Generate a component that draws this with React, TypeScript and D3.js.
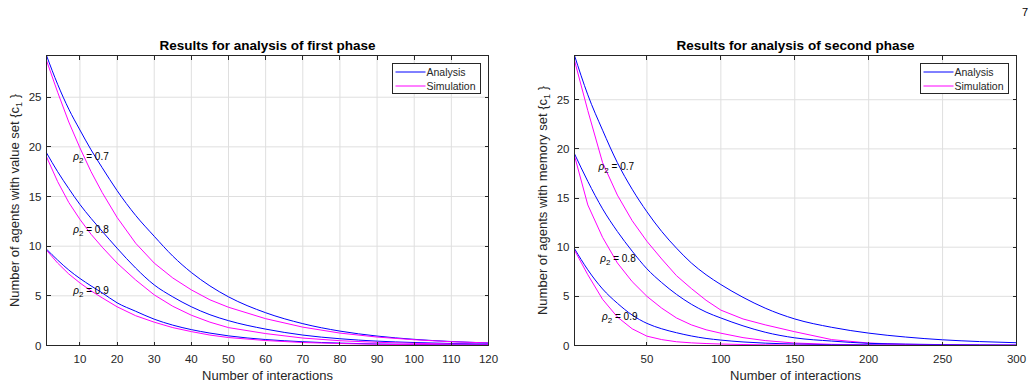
import * as d3 from "d3";

const FONT = "'Liberation Sans', Arial, Helvetica, sans-serif";
const WIDTH = 1036;
const HEIGHT = 387;
const AXIS_COLOR = "#262626";
const GRID_COLOR = "#dfdfdf";
const BLUE = "#0000ff";
const MAGENTA = "#ff00ff";

// first phase (value set)
const firstSteps = [1, 4, 7, 10, 13, 16, 20, 25, 30, 35, 40, 45, 50, 60, 70, 80, 90, 100, 110, 120];
const firstAnalysis07 = [29.2, 26.3, 23.8, 21.7, 19.7, 17.9, 15.6, 13.1, 11.0, 9.0, 7.35, 6.0, 4.9, 3.3, 2.2, 1.45, 0.95, 0.62, 0.4, 0.26];
const firstSimulation07 = [28.7, 25.5, 22.5, 19.9, 17.5, 15.4, 12.9, 10.3, 8.3, 6.8, 5.6, 4.6, 3.85, 2.7, 1.85, 1.25, 0.85, 0.58, 0.38, 0.26];
const firstAnalysis08 = [19.4, 17.5, 15.8, 14.2, 12.8, 11.5, 9.8, 7.8, 6.1, 4.9, 3.9, 3.1, 2.5, 1.65, 1.05, 0.68, 0.44, 0.3, 0.2, 0.14];
const firstSimulation08 = [19.0, 16.5, 14.4, 12.7, 11.2, 9.9, 8.3, 6.6, 5.1, 3.95, 3.05, 2.35, 1.8, 1.2, 0.75, 0.48, 0.32, 0.22, 0.15, 0.1];
const firstAnalysis09 = [9.7, 8.6, 7.6, 6.75, 6.0, 5.3, 4.3, 3.45, 2.65, 2.05, 1.6, 1.25, 0.97, 0.6, 0.38, 0.24, 0.15, 0.1, 0.06, 0.04];
const firstSimulation09 = [9.6, 8.3, 7.2, 6.3, 5.5, 4.8, 3.9, 3.0, 2.35, 1.8, 1.4, 1.05, 0.8, 0.5, 0.3, 0.2, 0.12, 0.08, 0.05, 0.03];

// second phase (memory set)
const secondSteps = [1, 10, 20, 30, 40, 50, 60, 70, 80, 90, 100, 115, 130, 150, 175, 200, 225, 250, 275, 300];
const secondAnalysis07 = [29.5, 25.5, 21.9, 18.6, 15.9, 13.6, 11.6, 9.9, 8.4, 7.2, 6.2, 4.9, 3.8, 2.7, 1.85, 1.26, 0.86, 0.58, 0.4, 0.28];
const secondSimulation07 = [29.0, 23.9, 18.6, 15.3, 12.7, 10.6, 8.8, 7.1, 5.8, 4.6, 3.6, 2.7, 2.1, 1.4, 0.6, 0.25, 0.12, 0.07, 0.04, 0.03];
const secondAnalysis08 = [19.5, 16.7, 13.9, 11.6, 9.6, 7.8, 6.4, 5.2, 4.2, 3.4, 2.8, 2.0, 1.35, 0.78, 0.45, 0.22, 0.14, 0.09, 0.06, 0.04];
const secondSimulation08 = [19.3, 14.3, 11.0, 8.4, 6.5, 5.0, 3.8, 2.8, 2.1, 1.6, 1.25, 0.8, 0.5, 0.25, 0.12, 0.06, 0.04, 0.03, 0.02, 0.02];
const secondAnalysis09 = [9.85, 7.7, 5.75, 4.3, 3.1, 2.25, 1.7, 1.3, 0.97, 0.72, 0.55, 0.36, 0.24, 0.15, 0.08, 0.05, 0.03, 0.02, 0.015, 0.01];
const secondSimulation09 = [9.7, 7.2, 4.7, 2.9, 1.7, 0.95, 0.6, 0.38, 0.27, 0.2, 0.15, 0.1, 0.07, 0.05, 0.03, 0.02, 0.01, 0.01, 0.01, 0.01];

const rhoValues = ["0.7", "0.8", "0.9"];
const firstLabelSpots = [[8.2, 19.0], [8.2, 11.7], [8.2, 5.55]];
const secondLabelSpots = [[17.3, 18.2], [18.4, 8.86], [19.6, 2.94]];

const firstXTicks = [10, 20, 30, 40, 50, 60, 70, 80, 90, 100, 110, 120];
const secondXTicks = [50, 100, 150, 200, 250, 300];
const yTicks = [0, 5, 10, 15, 20, 25];
const legendNames = ["Analysis", "Simulation"];
const legendColors = [BLUE, MAGENTA];

type Box = { left: number; right: number; top: number; bottom: number };

type PanelProps = {
  box: Box;
  xDomain: [number, number];
  yMax: number;
  xTicks: number[];
  steps: number[];
  analysis: number[][];
  simulation: number[][];
  labelSpots: number[][];
  title: string;
  yLabel: string;
};

function Panel({ box, xDomain, yMax, xTicks, steps, analysis, simulation, labelSpots, title, yLabel }: PanelProps) {
  const x = d3.scaleLinear().domain(xDomain).range([box.left, box.right]);
  const y = d3.scaleLinear().domain([0, yMax]).range([box.bottom, box.top]);
  const tickLen = 4;

  const smooth = d3
    .line<number>()
    .x((_, i) => x(steps[i]))
    .y((v) => y(v))
    .curve(d3.curveMonotoneX);
  const rough = d3
    .line<number>()
    .x((_, i) => x(steps[i]))
    .y((v) => y(v));

  const midX = (box.left + box.right) / 2;
  const midY = (box.top + box.bottom) / 2;
  const legendX = box.right - 96;
  const legendY = box.top + 8;

  return (
    <g>
      {xTicks.map((t) => (
        <line key={`gx${t}`} x1={x(t)} x2={x(t)} y1={box.top} y2={box.bottom} stroke={GRID_COLOR} />
      ))}
      {yTicks.map((t) => (
        <line key={`gy${t}`} x1={box.left} x2={box.right} y1={y(t)} y2={y(t)} stroke={GRID_COLOR} />
      ))}

      {analysis.map((series, k) => (
        <g key={`c${k}`}>
          <path d={smooth(series) ?? ""} fill="none" stroke={BLUE} strokeWidth={1} />
          <path d={rough(simulation[k]) ?? ""} fill="none" stroke={MAGENTA} strokeWidth={1} />
        </g>
      ))}

      <rect
        x={box.left}
        y={box.top}
        width={box.right - box.left}
        height={box.bottom - box.top}
        fill="none"
        stroke={AXIS_COLOR}
        shapeRendering="crispEdges"
      />
      {xTicks.map((t) => (
        <g key={`tx${t}`}>
          <line x1={x(t)} x2={x(t)} y1={box.bottom} y2={box.bottom - tickLen} stroke={AXIS_COLOR} shapeRendering="crispEdges" />
          <line x1={x(t)} x2={x(t)} y1={box.top} y2={box.top + tickLen} stroke={AXIS_COLOR} shapeRendering="crispEdges" />
          <text x={x(t)} y={box.bottom + 17} textAnchor="middle" fontSize={11.5} fill={AXIS_COLOR}>
            {t}
          </text>
        </g>
      ))}
      {yTicks.map((t) => (
        <g key={`ty${t}`}>
          <line x1={box.left} x2={box.left + tickLen} y1={y(t)} y2={y(t)} stroke={AXIS_COLOR} shapeRendering="crispEdges" />
          <line x1={box.right} x2={box.right - tickLen} y1={y(t)} y2={y(t)} stroke={AXIS_COLOR} shapeRendering="crispEdges" />
          <text x={box.left - 5} y={y(t) + 4} textAnchor="end" fontSize={11.5} fill={AXIS_COLOR}>
            {t}
          </text>
        </g>
      ))}

      <text x={midX} y={50} textAnchor="middle" fontSize={13.5} fontWeight="bold" fill="#000">
        {title}
      </text>
      <text x={midX} y={380} textAnchor="middle" fontSize={13} fill={AXIS_COLOR}>
        Number of interactions
      </text>
      <text
        transform={`translate(${box.left - 28},${midY}) rotate(-90)`}
        textAnchor="middle"
        fontSize={13}
        fill={AXIS_COLOR}
      >
        {yLabel} {"{c"}
        <tspan dy={3} fontSize={9}>1</tspan>
        <tspan dy={-3}>{" }"}</tspan>
      </text>

      {labelSpots.map(([lx, ly], k) => (
        <text key={`r${k}`} x={x(lx)} y={y(ly) + 3.5} fontSize={10} fill="#000">
          <tspan fontStyle="italic">ρ</tspan>
          <tspan dy={3} fontSize={8}>2</tspan>
          <tspan dy={-3}>{` = ${rhoValues[k]}`}</tspan>
        </text>
      ))}

      <rect
        x={legendX}
        y={legendY}
        width={88}
        height={30}
        fill="#fff"
        stroke={AXIS_COLOR}
        shapeRendering="crispEdges"
      />
      {legendNames.map((name, k) => (
        <g key={name}>
          <path
            d={`M${legendX + 3},${legendY + 8.5 + k * 14}H${legendX + 33}`}
            stroke={legendColors[k]}
            strokeWidth={1}
            fill="none"
          />
          <text x={legendX + 34} y={legendY + 12.5 + k * 14} fontSize={10.5} fill={AXIS_COLOR}>
            {name}
          </text>
        </g>
      ))}
    </g>
  );
}

export default function App() {
  return (
    <svg
      width={WIDTH}
      height={HEIGHT}
      viewBox={`0 0 ${WIDTH} ${HEIGHT}`}
      style={{ position: "absolute", left: 0, top: 0, background: "#fff", fontFamily: FONT }}
    >
      <rect width={WIDTH} height={HEIGHT} fill="#fff" />
      <text x={1025} y={16} textAnchor="middle" fontSize={11} fill="#000">
        7
      </text>
      <Panel
        box={{ left: 46.5, right: 488.5, top: 55.5, bottom: 345.5 }}
        xDomain={[1, 120]}
        yMax={29.2}
        xTicks={firstXTicks}
        steps={firstSteps}
        analysis={[firstAnalysis07, firstAnalysis08, firstAnalysis09]}
        simulation={[firstSimulation07, firstSimulation08, firstSimulation09]}
        labelSpots={firstLabelSpots}
        title="Results for analysis of first phase"
        yLabel="Number of agents with value set"
      />
      <Panel
        box={{ left: 574.5, right: 1016.5, top: 55.5, bottom: 345.5 }}
        xDomain={[1, 300]}
        yMax={29.5}
        xTicks={secondXTicks}
        steps={secondSteps}
        analysis={[secondAnalysis07, secondAnalysis08, secondAnalysis09]}
        simulation={[secondSimulation07, secondSimulation08, secondSimulation09]}
        labelSpots={secondLabelSpots}
        title="Results for analysis of second phase"
        yLabel="Number of agents with memory set"
      />
    </svg>
  );
}
